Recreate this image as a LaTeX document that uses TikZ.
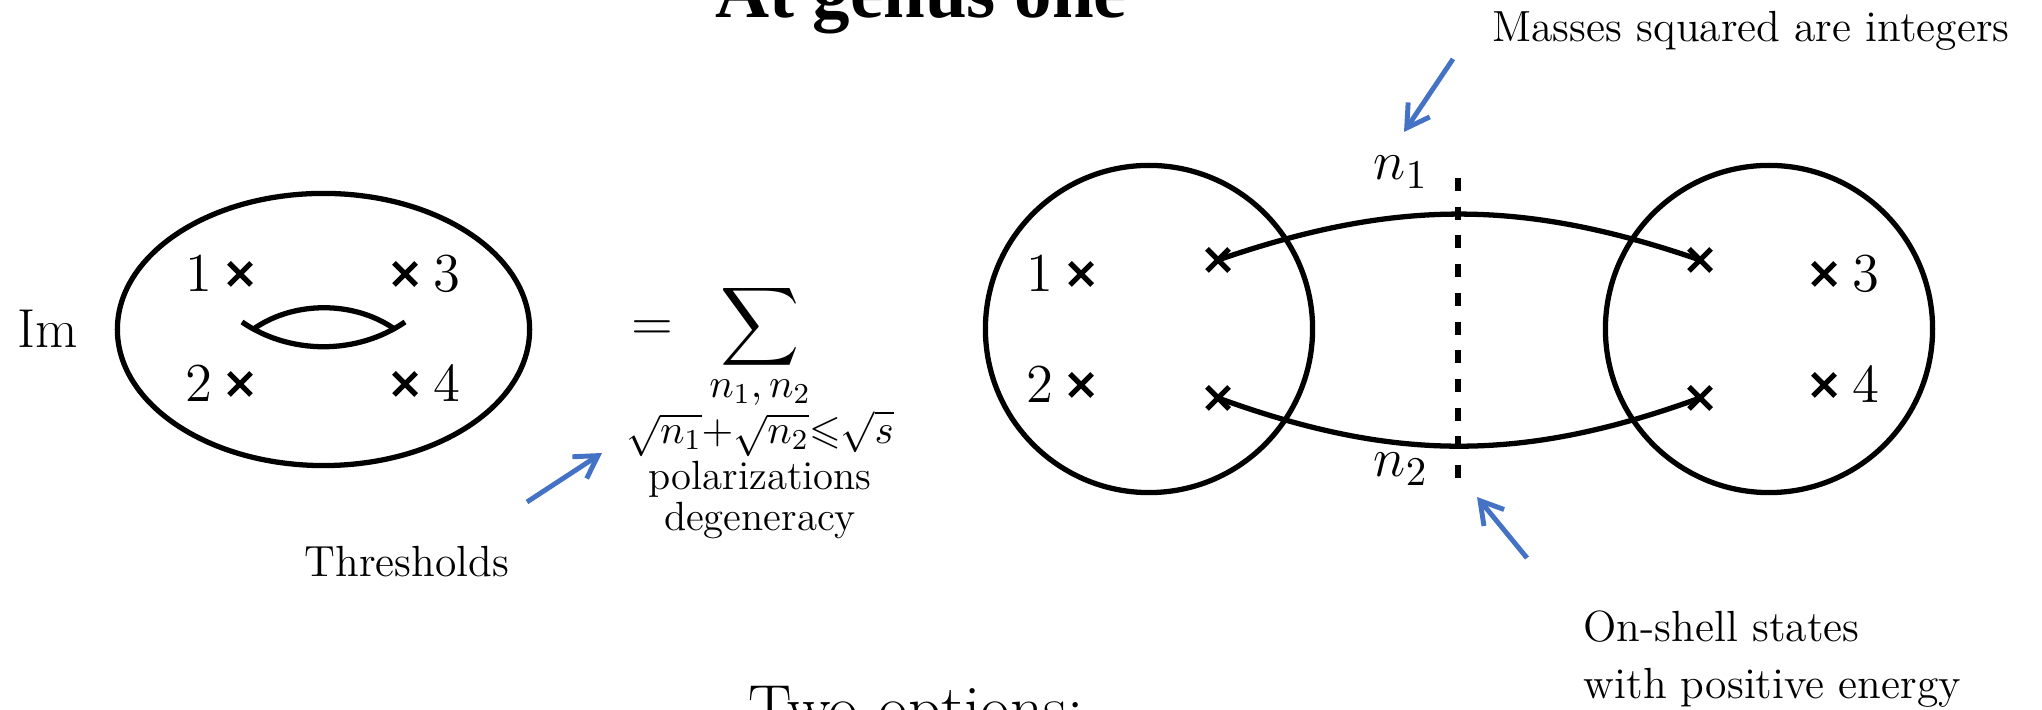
\RequirePackage{fix-cm}
\documentclass[tikz,border=0pt]{standalone}
\usepackage{amsmath,amssymb}
\usepackage{fontspec}
\newfontfamily\titlefont{Liberation Serif}
\DeclareMathSizes{15.6}{15.6}{11.6}{8.2}
\usetikzlibrary{arrows.meta}
\usetikzlibrary{shapes.geometric,shapes.misc,positioning}
\definecolor{arrowblue}{RGB}{68,114,196}
\tikzset{
    blackline/.style={
        line width=1.5pt,
        black
    },
    % 叉号
    xmark/.style={
        cross out, draw,
        line width=1.5pt,
        minimum size=0.22cm,
        inner sep=0pt, outer sep=0pt
    },
    num/.style={font=\fontsize{15.6}{19}\selectfont, inner sep=0pt},
    note/.style={font=\fontsize{12.4}{16.2}\selectfont, inner sep=0pt},
    % 蓝色箭头
    bluearrow/.style={
        line width=1.4pt,
        arrowblue,
        -{Straight Barb[length=0.22cm, width=0.26cm]}
    }
}

\begin{document}
\begin{tikzpicture}[x=0.01cm, y=0.01cm]
    \useasboundingbox (0,0) rectangle (2042,710);
    \clip (0,0) rectangle (2042,710);

    % 标题
    \node[font=\titlefont\bfseries\fontsize{21.3}{25}\selectfont, anchor=base, inner sep=0pt] (title) at (921,692) {At genus one};
    \node[font=\fontsize{18.5}{22}\selectfont, anchor=base, inner sep=0pt] (opts) at (916,-21) {Two options:};

    % 左边的环面
    \node[num, anchor=base] (im) at (48,362) {$\mathrm{Im}$};
    \node[draw, ellipse, blackline, minimum width=4.12cm, minimum height=2.72cm, inner sep=0pt] (tor) at (323.5,380.5) {};
    \draw[blackline] (242,388) .. controls (290,355) and (357,355) .. (405,388);
    \draw[blackline] (255,382) .. controls (295,409) and (353,409) .. (393,382);
    \node[xmark] (t1) at (240,436) {};
    \node[xmark] (t2) at (240,326) {};
    \node[xmark] (t3) at (405,436) {};
    \node[xmark] (t4) at (405,326) {};
    \node[num, left=0.16cm of t1] (k1) {$1$};
    \node[num, left=0.16cm of t2] (k2) {$2$};
    \node[num, right=0.17cm of t3] (k3) {$3$};
    \node[num, right=0.17cm of t4] (k4) {$4$};

    % 求和
    \node[num, anchor=base] (eq) at (652,369) {$=$};
    \node[num, anchor=base] (sum) at (760,369) {$\displaystyle\sum_{\substack{n_1,\,n_2\\ \sqrt{n_1}+\sqrt{n_2}\leqslant\sqrt{s}\\ \text{polarizations}\\ \text{degeneracy}}}$};

    % 右边的两个圆
    \node[draw, circle, blackline, minimum size=3.27cm, inner sep=0pt] (lb) at (1149,381) {};
    \node[draw, circle, blackline, minimum size=3.27cm, inner sep=0pt] (rb) at (1769,381) {};
    \node[xmark] (p1) at (1081,436) {};
    \node[xmark] (p2) at (1081,325) {};
    \node[xmark] (u1) at (1218,450) {};
    \node[xmark] (u2) at (1218,312) {};
    \node[xmark] (v1) at (1700,450) {};
    \node[xmark] (v2) at (1700,312) {};
    \node[xmark] (p3) at (1824,436) {};
    \node[xmark] (p4) at (1824,325) {};
    \node[num, left=0.16cm of p1] (r1) {$1$};
    \node[num, left=0.16cm of p2] (r2) {$2$};
    \node[num, right=0.17cm of p3] (r3) {$3$};
    \node[num, right=0.17cm of p4] (r4) {$4$};

    % 两条传播子和切割线
    \draw[blackline] (u1.center) to[bend left=19] (v1.center);
    \draw[blackline] (u2.center) to[bend right=20] (v2.center);
    \coordinate (cuttop) at (1458,532);
    \coordinate (cutbot) at (1458,230);
    \draw[blackline, line width=1.8pt, dash pattern=on 0.13cm off 0.157cm] (cuttop) -- (cutbot);
    \node[num, anchor=base] (n1) at (1401,530) {$n_1$};
    \node[num, anchor=base] (n2) at (1401,233) {$n_2$};

    % 注释和蓝色箭头
    \node[note, anchor=base] (mass) at (1751,668) {Masses squared are integers};
    \node[note, anchor=base] (thr) at (407,133) {Thresholds};
    \node[note, anchor=north west, align=left] (shell) at (1583,100) {On-shell states\\with positive energy};
    \coordinate (m0) at (1453,651);
    \coordinate (m1) at (1404,578);
    \coordinate (s0) at (1527,152);
    \coordinate (s1) at (1477,213);
    \coordinate (h0) at (527,208);
    \coordinate (h1) at (602,257);
    \draw[bluearrow] (m0) -- (m1);
    \draw[bluearrow] (s0) -- (s1);
    \draw[bluearrow] (h0) -- (h1);
\end{tikzpicture}
\end{document}
